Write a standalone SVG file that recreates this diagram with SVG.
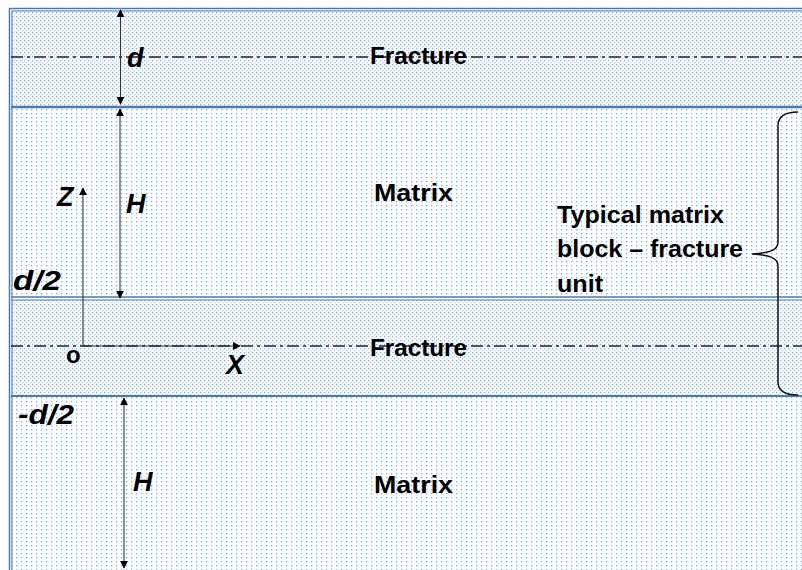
<svg xmlns="http://www.w3.org/2000/svg" width="802" height="570" viewBox="0 0 802 570">
<defs>
<pattern id="pf" width="4" height="4" patternUnits="userSpaceOnUse">
<rect width="4" height="4" fill="#fafcff"/>
<rect x="0" y="0" width="1.3" height="1.3" fill="#8cb8e4"/>
<rect x="2" y="2" width="1.3" height="1.3" fill="#b5d2f0"/>
</pattern>
<pattern id="pm" width="5" height="4" patternUnits="userSpaceOnUse">
<rect width="5" height="4" fill="#fdfeff"/>
<rect x="1" y="1" width="1.3" height="1.3" fill="#80b0e0"/>
</pattern>
<marker id="ah" viewBox="0 0 10 10" refX="9" refY="5" markerWidth="8" markerHeight="8" orient="auto-start-reverse" markerUnits="userSpaceOnUse">
<path d="M0,0 L10,5 L0,10 z" fill="#000"/>
</marker>
<style>
.bl{stroke:#4e79ab;fill:none}
.dd{stroke:#222;stroke-width:1.4;stroke-dasharray:12 4 3 4;fill:none}
.ar{stroke:#333;stroke-width:1.1;fill:none}
.lb{font-family:"Liberation Sans",Arial,sans-serif;font-weight:bold;font-size:24px;fill:#000}
.it{font-family:"Liberation Sans",Arial,sans-serif;font-weight:bold;font-style:italic;font-size:27px;fill:#000}
</style>
</defs>
<rect x="0" y="0" width="802" height="570" fill="#fff"/>
<g id="layers">
<rect id="fracture-top" x="11" y="10" width="791" height="96" fill="url(#pf)"/>
<rect id="matrix-top" x="11" y="108" width="791" height="188" fill="url(#pm)"/>
<rect id="fracture-mid" x="11" y="300" width="791" height="95" fill="url(#pf)"/>
<rect id="matrix-bottom" x="11" y="397" width="791" height="173" fill="url(#pm)"/>
<path class="bl" stroke-width="1.5" d="M9.5,570 V8.5 H802"/>
<path class="bl" stroke-width="1" d="M12,570 V11 H802"/>
<path class="bl" stroke-width="2.5" d="M11,107 H802"/>
<path class="bl" stroke-width="1.5" d="M11,297 H802"/>
<path class="bl" stroke-width="1" d="M11,300 H802"/>
<path class="bl" stroke-width="1.8" d="M11,396 H802"/>
<path class="dd" d="M11,57 H802"/>
<path class="dd" d="M11,346 H802"/>
</g>
<g id="connectors">
<line class="ar" x1="120.5" y1="10" x2="120.5" y2="104" marker-start="url(#ah)" marker-end="url(#ah)"/>
<line class="ar" x1="120" y1="109" x2="120" y2="298" marker-start="url(#ah)" marker-end="url(#ah)"/>
<line class="ar" x1="124" y1="398" x2="124" y2="568" marker-start="url(#ah)" marker-end="url(#ah)"/>
<line class="ar" x1="83" y1="346" x2="83" y2="188" marker-end="url(#ah)"/>
<line class="ar" x1="82.5" y1="346" x2="240" y2="346" marker-end="url(#ah)"/>
<path id="brace" d="M798,112 C786,112 778,116 778,126 V242 C778,250 770,253 752,254 C770,255 778,258 778,266 V382 C778,392 786,395 798,395" fill="none" stroke="#111" stroke-width="1.5"/>
</g>
<g id="labels">
<text class="it" x="127" y="67">d</text>
<text class="lb" x="370" y="64" textLength="97" lengthAdjust="spacingAndGlyphs">Fracture</text>
<text class="lb" x="374" y="201" textLength="79" lengthAdjust="spacingAndGlyphs">Matrix</text>
<text class="it" x="57" y="206">Z</text>
<text class="it" x="126" y="213">H</text>
<text class="it" x="13" y="290" textLength="48" lengthAdjust="spacingAndGlyphs">d/2</text>
<text class="lb" x="66" y="363">o</text>
<text class="it" x="226" y="374">X</text>
<text class="lb" x="370" y="356" textLength="97" lengthAdjust="spacingAndGlyphs">Fracture</text>
<text class="it" x="18" y="424" textLength="56" lengthAdjust="spacingAndGlyphs">-d/2</text>
<text class="it" x="133" y="491">H</text>
<text class="lb" x="374" y="493" textLength="79" lengthAdjust="spacingAndGlyphs">Matrix</text>
<text class="lb" x="557" y="223" textLength="167" lengthAdjust="spacingAndGlyphs">Typical matrix</text>
<text class="lb" x="557" y="257" textLength="186" lengthAdjust="spacingAndGlyphs">block – fracture</text>
<text class="lb" x="557" y="292" textLength="46" lengthAdjust="spacingAndGlyphs">unit</text>
</g>
</svg>
